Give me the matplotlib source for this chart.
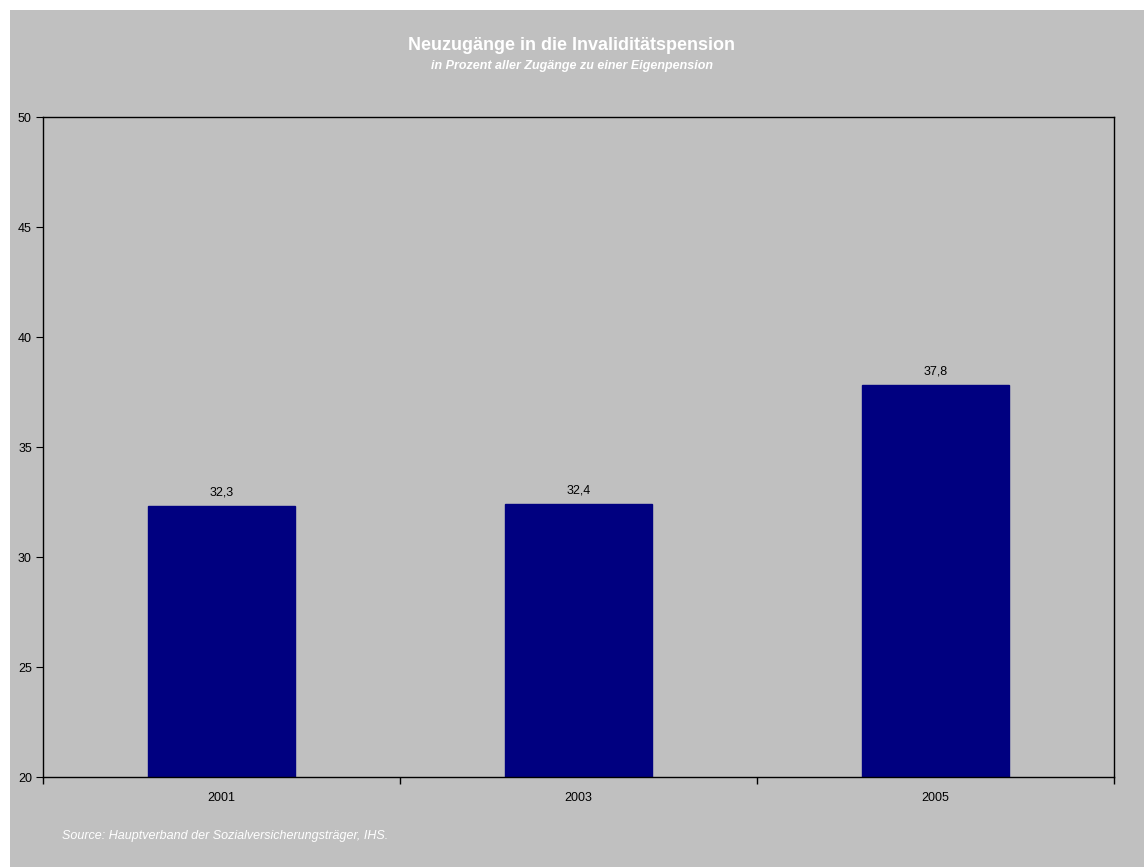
import matplotlib.pyplot as plt
from matplotlib.patches import Rectangle

plt.rcParams['font.family'] = ['Liberation Sans', 'DejaVu Sans']

years = ['2001', '2003', '2005']
values = [32.3, 32.4, 37.8]
labels = ['32,3', '32,4', '37,8']

W, H = 1144, 867
fig = plt.figure(figsize=(W / 100, H / 100), dpi=100, facecolor='white')
fig.patches.append(Rectangle((10 / W, 0), 1 - 10 / W, 1 - 10 / H,
                             transform=fig.transFigure, facecolor='#c0c0c0',
                             edgecolor='none', zorder=-5))

ax = fig.add_axes([43 / W, (H - 777) / H, (1114 - 43) / W, (777 - 117) / H])
ax.set_facecolor('#c0c0c0')

x = range(len(years))
ax.bar(x, values, width=0.41, bottom=0, color='#000080', edgecolor='#000080', zorder=2)
for i in x:
    ax.text(i, values[i] + 0.35, labels[i], ha='center', va='bottom', fontsize=9)

ax.set_xlim(-0.5, len(years) - 0.5)
ax.set_ylim(20, 50)
ax.set_yticks([20, 25, 30, 35, 40, 45, 50])
ax.tick_params(axis='y', direction='out', length=5, labelsize=9, pad=3)
ax.set_xticks(list(x))
ax.set_xticklabels(years)
ax.tick_params(axis='x', length=0, labelsize=9, pad=11)
ax.set_xticks([-0.5, 0.5, 1.5, 2.5], minor=True)
ax.tick_params(axis='x', which='minor', direction='out', length=5, width=1, color='black')
for s in ax.spines.values():
    s.set_color('black')
    s.set_linewidth(1)

fig.text(0.5, 1 - 45 / H, 'Neuzugänge in die Invaliditätspension', ha='center', va='center',
         fontsize=13, fontweight='bold', color='white')
fig.text(0.5, 1 - 66 / H, 'in Prozent aller Zugänge zu einer Eigenpension', ha='center', va='center',
         fontsize=9, fontweight='bold', style='italic', color='white')
fig.text(62 / W, 1 - 836 / H, 'Source: Hauptverband der Sozialversicherungsträger, IHS.',
         ha='left', va='center', fontsize=9, style='italic', color='white')

fig.savefig('out.png', dpi=100, facecolor='white')
